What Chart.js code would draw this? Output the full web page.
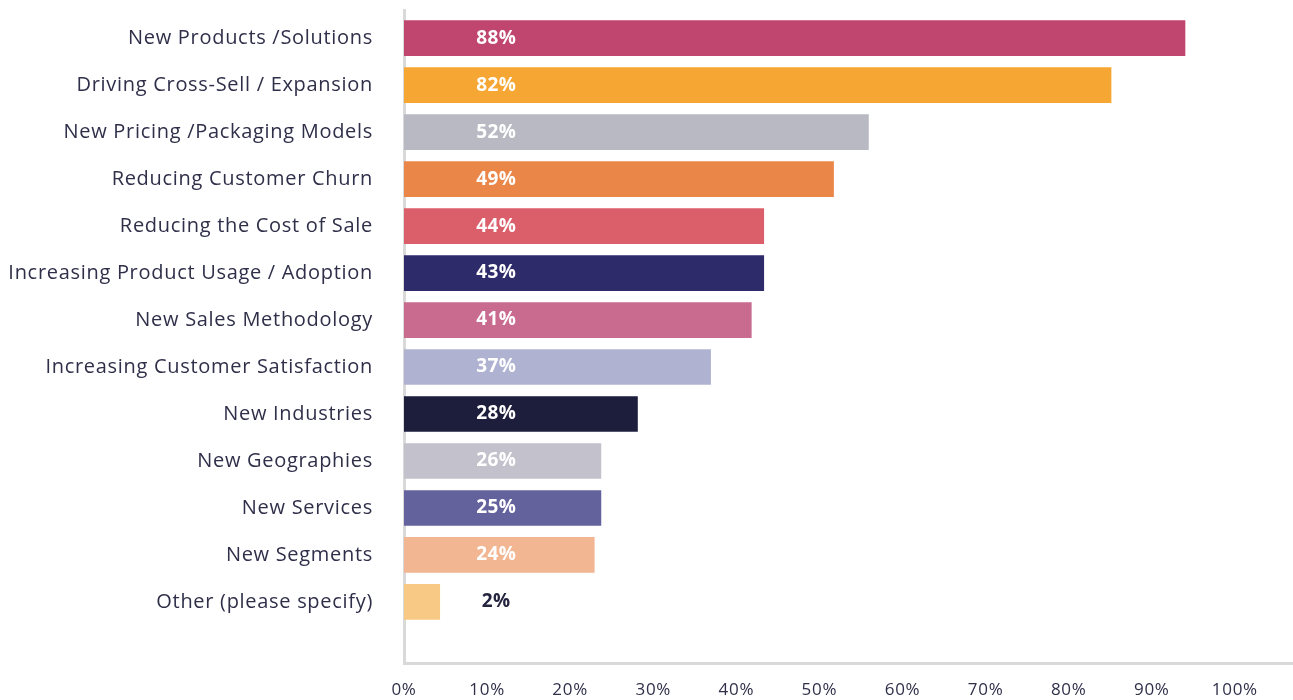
<!DOCTYPE html>
<html>
<head>
<meta charset="utf-8">
<script src="https://cdn.jsdelivr.net/npm/chart.js@4"></script>
<style>
  html, body { margin: 0; padding: 0; background: #fff; }
  #wrap { width: 1293px; height: 700px; position: relative; }
</style>
</head>
<body>
<div id="wrap"><canvas id="resultChart"></canvas></div>
<script>
// categories, top to bottom
const categories = [
    'New Products /Solutions',
    'Driving Cross-Sell / Expansion',
    'New Pricing /Packaging Models',
    'Reducing Customer Churn',
    'Reducing the Cost of Sale',
    'Increasing Product Usage / Adoption',
    'New Sales Methodology',
    'Increasing Customer Satisfaction',
    'New Industries',
    'New Geographies',
    'New Services',
    'New Segments',
    'Other (please specify)'
];

// bar lengths as drawn against the axis (they don't quite match the printed labels)
const barValues = [94.0, 85.1, 55.9, 51.7, 43.3, 43.3, 41.8, 36.9, 28.1, 23.7, 23.7, 22.9, 4.3];

// percentages printed on the bars
const printedLabels = ['88%', '82%', '52%', '49%', '44%', '43%', '41%', '37%', '28%', '26%', '25%', '24%', '2%'];

const xTicks = [0, 10, 20, 30, 40, 50, 60, 70, 80, 90, 100];

const barColors = [
    '#c0456f', '#f6a733', '#b9b9c4', '#eb8649', '#db5f6a', '#2e2b6b', '#c96a8f',
    '#afb3d1', '#1d1d3c', '#c3c1cb', '#63629d', '#f2b692', '#f8c984'
];

const textColor = '#2f2f4a';
const axisColor = '#d9d9d9';

// where the printed value sits along the bar, in axis units
const labelPos = 11.1;

// the original font is wider, so space the letters out a bit
const spacingPlugin = {
    id: 'letterSpacing',
    beforeDraw(chart) {
        chart.ctx.letterSpacing = '0.7px';
    }
};

const barLabelPlugin = {
    id: 'barLabels',
    afterDatasetsDraw(chart) {
        const ctx = chart.ctx;
        const xScale = chart.scales.x;
        const meta = chart.getDatasetMeta(0);
        ctx.save();
        ctx.letterSpacing = '0.4px';
        ctx.font = 'bold 19px "Open Sans"';
        ctx.textAlign = 'center';
        ctx.textBaseline = 'middle';
        meta.data.forEach((bar, i) => {
            ctx.fillStyle = i === printedLabels.length - 1 ? '#24243f' : '#ffffff';
            ctx.fillText(printedLabels[i], xScale.getPixelForValue(labelPos), bar.y);
        });
        ctx.restore();
    }
};

// keep the tick-label padding from shrinking the plot area
function noEdgePadding(scale) {
    scale.paddingTop = 0;
    scale.paddingBottom = 0;
    scale.paddingLeft = 0;
    scale.paddingRight = 0;
}

const ctx = document.getElementById('resultChart').getContext('2d');

new Chart(ctx, {
    type: 'bar',
    data: {
        datasets: [{
            data: barValues.map((v, i) => ({ x: v, y: i })),
            backgroundColor: barColors,
            borderWidth: 0,
            barThickness: 35
        }]
    },
    options: {
        indexAxis: 'y',
        responsive: true,
        maintainAspectRatio: false,
        animation: false,
        layout: { padding: { top: 10, right: 0, bottom: 0, left: 0 } },
        plugins: {
            legend: { display: false },
            tooltip: { enabled: false }
        },
        scales: {
            x: {
                type: 'linear',
                min: 0,
                max: 107,
                offset: false,
                grid: { display: false, drawTicks: false },
                border: { display: true, color: axisColor, width: 3 },
                afterBuildTicks: (scale) => {
                    scale.ticks = xTicks.map(v => ({ value: v }));
                },
                afterFit: (scale) => {
                    noEdgePadding(scale);
                    scale.height = 37;
                },
                ticks: {
                    padding: 17,
                    color: textColor,
                    font: { family: 'Open Sans', size: 17 },
                    callback: (value) => value + '%'
                }
            },
            y: {
                type: 'linear',
                reverse: true,
                min: -0.6,
                max: 13.3,
                offset: false,
                grid: { display: false, drawTicks: false },
                border: { display: true, color: axisColor, width: 3 },
                afterBuildTicks: (scale) => {
                    scale.ticks = categories.map((c, i) => ({ value: i }));
                },
                afterFit: (scale) => {
                    noEdgePadding(scale);
                    scale.width = 404;
                },
                ticks: {
                    padding: 31,
                    autoSkip: false,
                    color: textColor,
                    font: { family: 'Open Sans', size: 20 },
                    callback: (value) => categories[value] || ''
                }
            }
        }
    },
    plugins: [spacingPlugin, barLabelPlugin]
});
</script>
</body>
</html>
